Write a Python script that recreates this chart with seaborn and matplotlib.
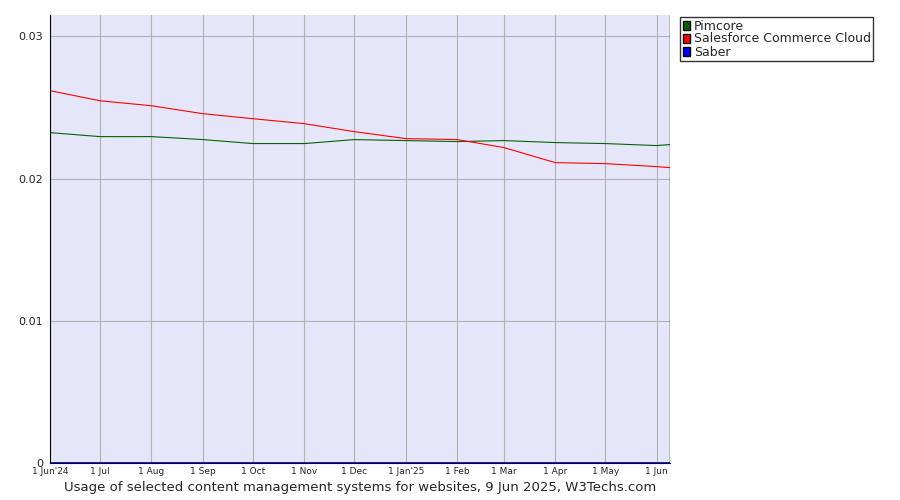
import matplotlib
matplotlib.use("Agg")
import matplotlib.pyplot as plt
import seaborn as sns
import pandas as pd
from matplotlib.patches import Patch

dates = ["2024-06-01", "2024-07-01", "2024-08-01", "2024-09-01", "2024-10-01",
         "2024-11-01", "2024-12-01", "2025-01-01", "2025-02-01", "2025-03-01",
         "2025-04-01", "2025-05-01", "2025-06-01", "2025-06-09"]
pimcore = [0.02323, 0.02295, 0.02295, 0.02274, 0.02246, 0.02246, 0.02274,
           0.02267, 0.0226, 0.02267, 0.02253, 0.02246, 0.02232, 0.02239]
salesforce = [0.02618, 0.02547, 0.02512, 0.02456, 0.02421, 0.02386, 0.0233,
              0.02281, 0.02274, 0.02218, 0.02112, 0.02105, 0.02084, 0.02077]
saber = [0.0] * 14
tick_labels = ["1 Jun'24", "1 Jul", "1 Aug", "1 Sep", "1 Oct", "1 Nov", "1 Dec",
               "1 Jan'25", "1 Feb", "1 Mar", "1 Apr", "1 May", "1 Jun"]

df = pd.DataFrame({"date": pd.to_datetime(dates), "Pimcore": pimcore,
                   "Salesforce Commerce Cloud": salesforce, "Saber": saber})
long = df.melt("date", var_name="system", value_name="share")
colors = {"Pimcore": "#006400", "Salesforce Commerce Cloud": "#ff0000", "Saber": "#0000ff"}

sns.set_style("white")
plt.rcParams["font.family"] = ["Verdana", "DejaVu Sans"]
fig = plt.figure(figsize=(9, 5), dpi=100)
ax = fig.add_axes([50 / 900, 37 / 500, 620 / 900, 448 / 500])
ax.set_facecolor("#e6e6fa")
sns.lineplot(data=long, x="date", y="share", hue="system", palette=colors,
             linewidth=0.8, legend=False, ax=ax)
ax.lines[-1].set_linewidth(2)

ax.set_xlim(pd.Timestamp("2024-06-01"), pd.Timestamp("2025-06-09"))
ax.set_ylim(0, 0.0315)
ax.set_yticks([0, 0.01, 0.02, 0.03])
ax.set_yticklabels(["0", "0.01", "0.02", "0.03"], fontsize=8)
ax.set_xticks(pd.to_datetime(dates[:13]))
ax.set_xticklabels(tick_labels, fontsize=6.5)
ax.grid(True, color="#b0b0b0", linewidth=0.8)
ax.tick_params(axis="x", length=2, pad=1)
ax.tick_params(axis="y", length=3, pad=2)
ax.set_xlabel("")
ax.set_ylabel("")
for s in ["left", "bottom"]:
    ax.spines[s].set_color("black")
for s in ["top", "right"]:
    ax.spines[s].set_visible(False)
ax.axvline(ax.get_xlim()[1], color="black", linewidth=1)

handles = [Patch(facecolor=c, edgecolor="black", label=k) for k, c in colors.items()]
fig.legend(handles=handles, loc="upper left", bbox_to_anchor=(680 / 900, 0.966),
           fontsize=9, frameon=True, fancybox=False, edgecolor="black",
           handlelength=0.6, handleheight=0.7, handletextpad=0.3,
           labelspacing=0.0, borderpad=0.2, borderaxespad=0)
fig.text(360 / 900, 0.024, "Usage of selected content management systems for websites, 9 Jun 2025, W3Techs.com",
         ha="center", va="center", fontsize=9.5)
fig.savefig("out.png", dpi=100)
